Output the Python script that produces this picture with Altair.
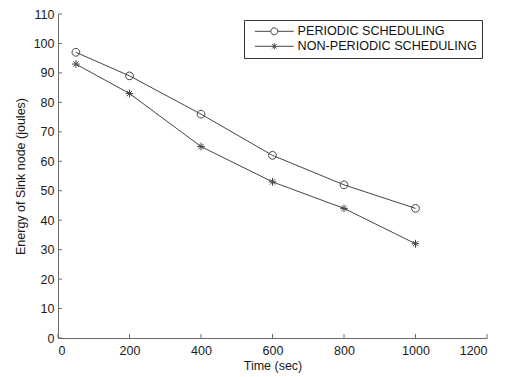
import altair as alt
import pandas as pd

# Sink-node residual energy over time for the two scheduling schemes
time_sec = [50, 200, 400, 600, 800, 1000]
periodic = [97, 89, 76, 62, 52, 44]
non_periodic = [93, 83, 65, 53, 44, 32]
series_names = ["PERIODIC SCHEDULING", "NON-PERIODIC SCHEDULING"]

x_ticks = [0, 200, 400, 600, 800, 1000, 1200]
y_ticks = [0, 10, 20, 30, 40, 50, 60, 70, 80, 90, 100, 110]

rows = []
for t, a, b in zip(time_sec, periodic, non_periodic):
    rows.append({"time": t, "energy": a, "series": series_names[0]})
    rows.append({"time": t, "energy": b, "series": series_names[1]})
df = pd.DataFrame(rows)

W, H = 429, 324
FONT = "Liberation Sans"
LINE = "#444444"
AXIS = "#6a6a6a"
MARK_SIZE = 60

# marker shapes: open circle and an 8-spoke asterisk
circle_path = "M-1,0A1,1 0 1,0 1,0A1,1 0 1,0 -1,0"
star_path = "M0,-1L0,1M-1,0L1,0M-0.7,-0.7L0.7,0.7M-0.7,0.7L0.7,-0.7"
# legend glyphs: a line segment running through the marker
leg_circle = "M-5,0L-0.9,0M0.9,0L5,0M-0.9,0A0.9,0.9 0 1,0 0.9,0A0.9,0.9 0 1,0 -0.9,0"
leg_star = "M-5,0L5,0M0,-0.8L0,0.8M-0.56,-0.56L0.56,0.56M-0.56,0.56L0.56,-0.56"

x_scale = alt.Scale(domain=[0, 1200], nice=False)
y_scale = alt.Scale(domain=[0, 110], nice=False)
x_axis = alt.Axis(values=x_ticks, format="d", ticks=False, grid=False, labelOverlap=False,
                  labelPadding=6, titlePadding=3)
y_axis = alt.Axis(values=y_ticks, format="d", ticks=False, grid=False, labelOverlap=False,
                  labelPadding=4, titlePadding=6)
X_TITLE = "Time (sec)"
Y_TITLE = "Energy of Sink node (joules)"


def xq(field):
    return alt.X(field, scale=x_scale, axis=x_axis, title=X_TITLE)


def yq(field):
    return alt.Y(field, scale=y_scale, axis=y_axis, title=Y_TITLE)


base = alt.Chart(df)

lines = base.mark_line(color=LINE, strokeWidth=1).encode(
    x=xq("time:Q"), y=yq("energy:Q"), detail="series:N"
)

points = base.mark_point(filled=False, color=LINE, strokeWidth=1, size=MARK_SIZE, opacity=1).encode(
    x=xq("time:Q"), y=yq("energy:Q"),
    shape=alt.Shape("series:N", scale=alt.Scale(domain=series_names, range=[circle_path, star_path]),
                    legend=None),
)

legend_layer = base.mark_point(filled=False, color=LINE, strokeWidth=1, size=MARK_SIZE, opacity=1).encode(
    x=xq("time:Q"), y=yq("energy:Q"),
    shape=alt.Shape("series:N",
                    scale=alt.Scale(domain=series_names, range=[leg_circle, leg_star]),
                    legend=alt.Legend(title=None, orient="none", legendX=186, legendY=6,
                                      padding=5, symbolOffset=19, labelOffset=17, labelLimit=0,
                                      strokeColor="#333333", fillColor="white",
                                      labelFont=FONT, labelFontSize=12.6, labelColor="#111111",
                                      rowPadding=2, symbolSize=MARK_SIZE, symbolStrokeWidth=1)),
).transform_filter("false")

xt = pd.DataFrame({"time": x_ticks})
yt = pd.DataFrame({"energy": y_ticks})
x_tick_marks = alt.Chart(xt).mark_rule(color=AXIS, strokeWidth=1).encode(
    x=xq("time:Q"), y=alt.value(H), y2=alt.value(H - 4)
)
y_tick_marks = alt.Chart(yt).mark_rule(color=AXIS, strokeWidth=1).encode(
    y=yq("energy:Q"), x=alt.value(0), x2=alt.value(4)
)

chart = alt.layer(lines, x_tick_marks, y_tick_marks, points, legend_layer).resolve_scale(
    shape="independent"
).properties(
    width=W, height=H,
    autosize=alt.AutoSizeParams(type="none"),
    padding={"left": 58, "top": 14, "right": 18, "bottom": 39},
).configure_view(stroke=None).configure_axis(
    domainColor=AXIS, domainWidth=1,
    labelFont=FONT, labelFontSize=12.5, labelColor="#1a1a1a",
    titleFont=FONT, titleFontSize=12.5, titleColor="#1a1a1a", titleFontWeight="normal",
)

chart.save("out.html", embed_options={"renderer": "svg", "actions": False})
